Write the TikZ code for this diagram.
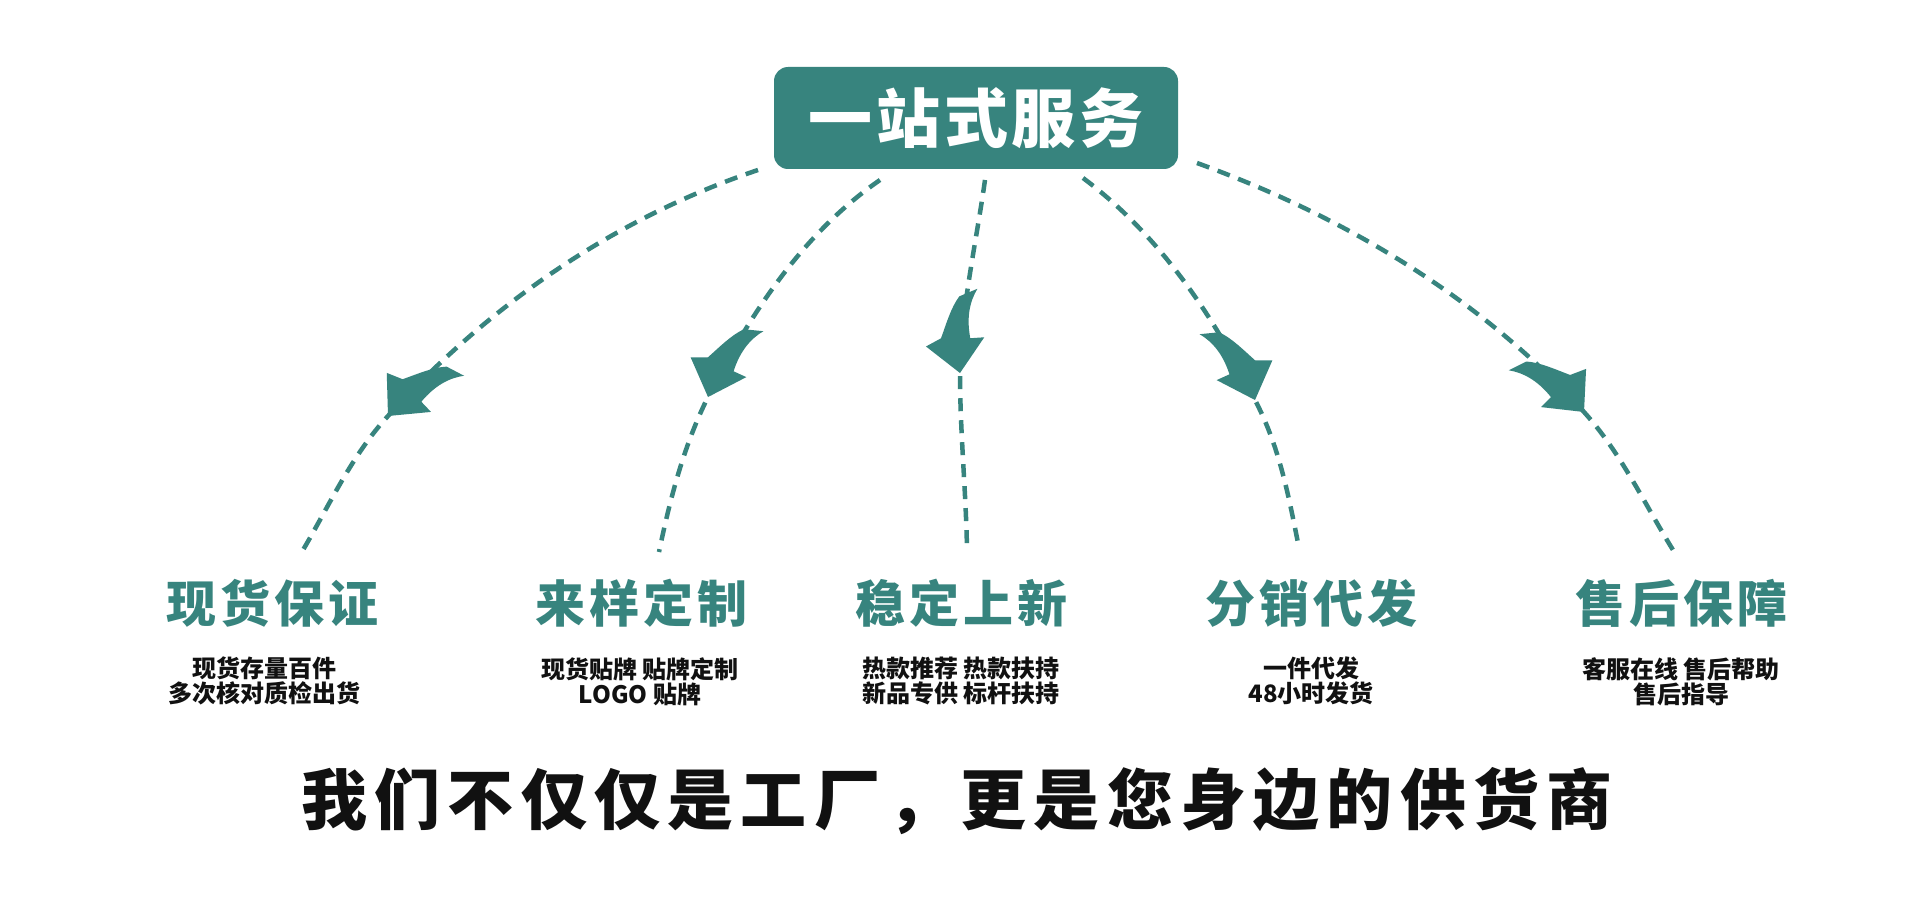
\documentclass[tikz,border=0pt]{standalone}
\usepackage{fontspec}
\setmainfont{Noto Sans CJK SC}
\definecolor{tealc}{RGB}{55,132,126}
\definecolor{inkc}{RGB}{17,17,17}
\tikzset{
  link/.style={draw=tealc, line width=4.5pt, dash pattern=on 13pt off 9pt},
  headtxt/.style={text=tealc, inner sep=0pt,
    font=\fontsize{50}{56}\selectfont\bfseries\addfontfeatures{LetterSpace=8}},
  subtxt/.style={text=inkc, inner sep=0pt, align=center, anchor=north,
    font=\fontsize{24}{25}\selectfont\bfseries},
  titlebox/.style={fill=tealc, rounded corners=14pt, minimum width=404pt,
    minimum height=102pt, inner sep=0pt, text=white,
    font=\fontsize{64}{70}\selectfont\bfseries\addfontfeatures{LetterSpace=6}},
  slogantxt/.style={text=inkc, inner sep=0pt,
    font=\fontsize{66}{72}\selectfont\bfseries\addfontfeatures{LetterSpace=11}},
}
\newcommand\swooshhead[3]{%
  \begin{scope}[shift={(#1)}, rotate=#2, yscale=#3]
    \fill[tealc] (0,0) -- (-31,-30) -- (-37,-14)
      .. controls (-50,-7) and (-66,0) .. (-76,10)
      -- (-81,29)
      .. controls (-70,20) and (-55,14) .. (-33,15)
      -- (-32,29) -- cycle;
  \end{scope}}
\begin{document}
\begin{tikzpicture}[x=1pt,y=-1pt]
  \fill[white] (0,0) rectangle (1920,920);
  \useasboundingbox (0,0) rectangle (1920,920);

  % title
  \node[titlebox] (top) at (976,118) {一站式服务};

  % connector end points
  \coordinate (s1) at (758,170);  \coordinate (m1) at (388,416);  \coordinate (e1) at (303,550);
  \coordinate (s2) at (880,180);  \coordinate (m2) at (708,397);  \coordinate (e2) at (659,552);
  \coordinate (s3) at (985,180);  \coordinate (m3) at (960,373);  \coordinate (e3) at (967,550);
  \coordinate (s4) at (1083,178); \coordinate (m4) at (1255,400); \coordinate (e4) at (1298,543);
  \coordinate (s5) at (1197,163); \coordinate (m5) at (1584,412); \coordinate (e5) at (1673,550);

  % dashed connectors
  \draw[link] (s1) .. controls (615,218) and (489,305) .. (m1)
                   .. controls (352,455) and (330,504) .. (e1);
  \draw[link] (s2) .. controls (803,233) and (750,314) .. (m2)
                   .. controls (684,445) and (670,499) .. (e2);
  \draw[link] (s3) .. controls (976,244) and (961,309) .. (m3)
                   .. controls (960,432) and (966,491) .. (e3);
  \draw[link] (s4) .. controls (1158,234) and (1213,314) .. (m4)
                   .. controls (1279,446) and (1288,493) .. (e4);
  \draw[link] (s5) .. controls (1343,216) and (1480,297) .. (m5)
                   .. controls (1621,453) and (1644,503) .. (e5);

  % arrow heads
  \swooshhead{m1}{-132.4}{-1}
  \swooshhead{m2}{-110.4}{-1}
  \swooshhead{m3}{-82}{-1}
  \swooshhead{m4}{-69.6}{1}
  \swooshhead{m5}{-48.7}{1}

  % headings
  \node[headtxt] (h1) at (272,603) {现货保证};
  \node[headtxt] (h2) at (641,603) {来样定制};
  \node[headtxt] (h3) at (961,603) {稳定上新};
  \node[headtxt] (h4) at (1311,603) {分销代发};
  \node[headtxt] (h5) at (1681,603) {售后保障};

  % descriptions
  \node[subtxt] (d1) at (264,657) {现货存量百件\\多次核对质检出货};
  \node[subtxt] (d2) at (640,657) {现货贴牌 贴牌定制\\LOGO 贴牌};
  \node[subtxt] (d3) at (961,657) {热款推荐 热款扶持\\新品专供 标杆扶持};
  \node[subtxt] (d4) at (1311,657) {一件代发\\48小时发货};
  \node[subtxt] (d5) at (1681,657) {客服在线 售后帮助\\售后指导};

  % slogan
  \node[slogantxt] (slogan) at (957,801) {我们不仅仅是工厂，更是您身边的供货商};
\end{tikzpicture}
\end{document}
